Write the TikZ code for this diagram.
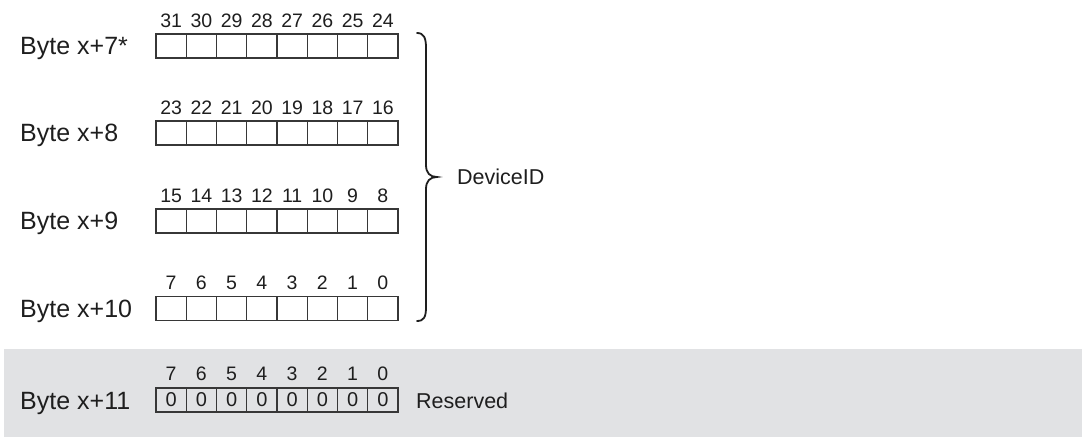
\documentclass[tikz,border=0pt]{standalone}
\usepackage{fontspec}
\setmainfont{Liberation Sans}
\definecolor{bandgray}{RGB}{225,226,228}
\definecolor{inkc}{RGB}{30,30,30}
\definecolor{linec}{RGB}{55,55,55}
\begin{document}
\begin{tikzpicture}[x=1pt,y=-1pt,
  cell/.style={draw=linec, line width=1.1pt, minimum width=30.25pt, minimum height=24pt, inner sep=0pt, outer sep=0pt, text=inkc, font=\fontsize{20}{20}\selectfont},
  bitnum/.style={font=\fontsize{19.5}{19.5}\selectfont, text=inkc, inner sep=0pt},
  bytelbl/.style={font=\fontsize{25}{25}\selectfont, text=inkc, anchor=base west, inner sep=0pt},
  desc/.style={font=\fontsize{21.5}{21.5}\selectfont, text=inkc, anchor=west, inner sep=0pt},
  bracepath/.style={draw=inkc, line width=1.8pt, line cap=round}]
\useasboundingbox (0,0) rectangle (1082,438);
\fill[bandgray] (4,349) rectangle (1082,437);
% rows 1-4
\foreach \r/\y/\hi/\lbl in {1/46/31/Byte x+7*, 2/133/23/Byte x+8, 3/221/15/Byte x+9, 4/308.5/7/Byte x+10}{
  \node[bytelbl] (lbl\r) at (20,\y+9) {\lbl};
  \foreach \i in {1,...,8}{
    \pgfmathtruncatemacro\b{\hi-\i+1}
    \node[cell] (c\r-\i) at ({156+30.25*(\i-0.5)},\y) {};
    \node[bitnum] (n\r-\i) at ({156+30.25*(\i-0.5)},\y-25.5) {\b};
  }
}
% row 5 (reserved)
\node[bytelbl] (lbl5) at (20,409) {Byte x+11};
\foreach \i in {1,...,8}{
  \pgfmathtruncatemacro\b{8-\i}
  \node[cell] (c5-\i) at ({156+30.25*(\i-0.5)},400) {0};
  \node[bitnum] (n5-\i) at ({156+30.25*(\i-0.5)},374) {\b};
}
\node[desc] (reserved) at (416,401) {Reserved};
% brace
\coordinate (btop) at (417,33);
\coordinate (bbot) at (417,321);
\coordinate (btip) at (437,177);
\draw[bracepath] (btop) .. controls (424,33) and (426,38) .. (426,48) -- (426,165)
  .. controls (426,173) and (430,177) .. (btip)
  .. controls (430,177) and (426,181) .. (426,189) -- (426,307)
  .. controls (426,317) and (424,321) .. (bbot);
\node[desc] (devid) at (457,177) {DeviceID};
\end{tikzpicture}
\end{document}
